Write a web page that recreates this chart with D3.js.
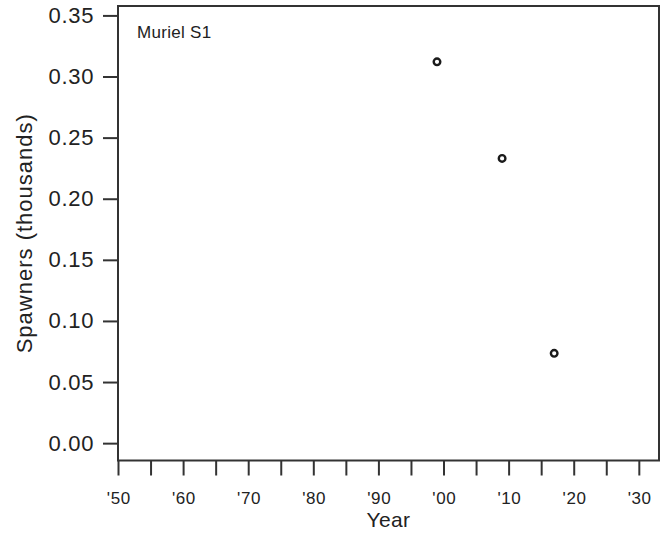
<!DOCTYPE html>
<html><head><meta charset="utf-8">
<script src="https://cdn.jsdelivr.net/npm/d3@7"></script>
<style>
html,body{margin:0;padding:0;background:#fff;}
text{font-family:"Liberation Sans",Arial,Helvetica,sans-serif;fill:#222;}
</style></head>
<body><svg id="c" width="668" height="536"></svg>
<script>
const years = [1999, 2009, 2017];
const spawners = [0.312, 0.233, 0.0735];
const yTicks = [0.00, 0.05, 0.10, 0.15, 0.20, 0.25, 0.30, 0.35];
const xLabelTicks = [1950, 1960, 1970, 1980, 1990, 2000, 2010, 2020, 2030];
const xMinorTicks = [1955, 1965, 1975, 1985, 1995, 2005, 2015, 2025];
const panelLabel = "Muriel S1";

const svg = d3.select("#c");
const L = 118, R = 659, T = 6, B = 460.5;
const x = d3.scaleLinear().domain([1950, 2033.1]).range([L, R]);
const y = d3.scaleLinear().domain([-0.0142, 0.3577]).range([B, T]);

// y axis
const ya = svg.append("g").attr("transform", `translate(${L},0)`)
  .call(d3.axisLeft(y).tickValues(yTicks).tickFormat(d3.format(".2f")).tickSize(15).tickPadding(10).tickSizeOuter(0));
ya.select(".domain").remove();
ya.selectAll(".tick line").attr("stroke", "#333").attr("stroke-width", 2);
ya.selectAll(".tick text").style("font-size", "22px").style("letter-spacing", "0.7px")
  .attr("dx", "1.2px").attr("fill", "#333");

// x axis
const xa = svg.append("g").attr("transform", `translate(0,${B})`)
  .call(d3.axisBottom(x).tickValues(xLabelTicks.concat(xMinorTicks)).tickSize(15).tickPadding(16)
    .tickFormat(d => xLabelTicks.includes(d) ? "'" + String(d % 100).padStart(2, "0") : ""));
xa.select(".domain").remove();
xa.selectAll(".tick line").attr("stroke", "#333").attr("stroke-width", 2);
xa.selectAll(".tick text").style("font-size", "17px").style("letter-spacing", "0.6px")
  .attr("dx", "0.3px").attr("fill", "#333");

// box
svg.append("rect").attr("x", L).attr("y", T).attr("width", R - L).attr("height", B - T)
  .attr("fill", "none").attr("stroke", "#333").attr("stroke-width", 2);

// points
svg.append("g").selectAll("circle").data(years.map((yr, i) => [yr, spawners[i]]))
  .join("circle").attr("cx", d => x(d[0])).attr("cy", d => y(d[1])).attr("r", 3.3)
  .attr("fill", "none").attr("stroke", "#1a1a1a").attr("stroke-width", 2.4);

// labels
svg.append("text").attr("x", 137).attr("y", 38).style("font-size", "17px").style("letter-spacing", "0.3px")
  .attr("fill", "#222").text(panelLabel);
svg.append("text").attr("x", (L + R) / 2).attr("y", 527).attr("text-anchor", "middle")
  .style("font-size", "21px").style("letter-spacing", "0.4px").attr("fill", "#333").text("Year");
svg.append("text").attr("transform", `translate(32,${(T + B) / 2}) rotate(-90)`).attr("text-anchor", "middle")
  .style("font-size", "22px").style("letter-spacing", "1px").attr("fill", "#333").text("Spawners (thousands)");
</script></body></html>
